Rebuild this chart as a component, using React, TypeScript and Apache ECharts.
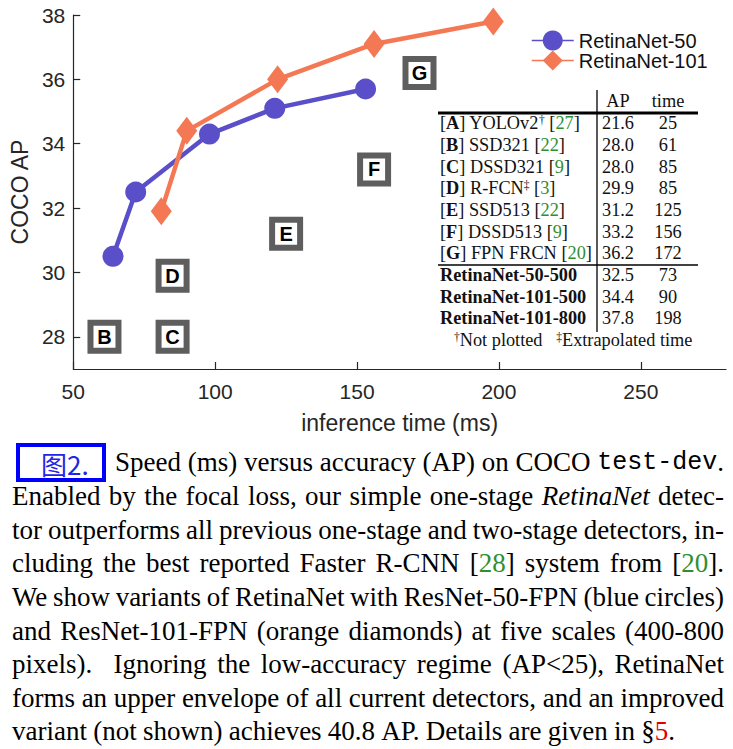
import React, { useEffect, useRef } from "react";
import * as echarts from "echarts";

// ---------- data ----------
const timeTicks = [50, 100, 150, 200, 250];
const apTicks = [28, 30, 32, 34, 36, 38];

const r50Time = [64, 72, 98, 121, 153];
const r50AP = [30.5, 32.5, 34.3, 35.1, 35.7];
const r101Time = [81, 90, 122, 156, 198];
const r101AP = [31.9, 34.4, 36.0, 37.1, 37.8];

const methodLetters = ["A", "B", "C", "D", "E", "F", "G"];
const methodNames = ["YOLOv2", "SSD321", "DSSD321", "R-FCN", "SSD513", "DSSD513", "FPN FRCN"];
const methodMarks = ["†", "", "", "‡", "", "", ""];
const methodCites = ["27", "22", "9", "3", "22", "9", "20"];
const methodAP = [21.6, 28.0, 28.0, 29.9, 31.2, 33.2, 36.2];
const methodTime = [25, 61, 85, 85, 125, 156, 172];
const methodPlotted = [false, true, true, true, true, true, true];

const retinaRows = ["RetinaNet-50-500", "RetinaNet-101-500", "RetinaNet-101-800"];
const retinaAP = [32.5, 34.4, 37.8];
const retinaTime = [73, 90, 198];

const captionLines: [string, string][][] = [
  [["n", "Speed (ms) versus accuracy (AP) on COCO "], ["m", "test-dev"], ["n", "."]],
  [["n", "Enabled by the focal loss, our simple one-stage "], ["i", "RetinaNet"], ["n", " detec-"]],
  [["n", "tor outperforms all previous one-stage and two-stage detectors, in-"]],
  [["n", "cluding the best reported Faster R-CNN ["], ["g", "28"], ["n", "] system from ["], ["g", "20"], ["n", "]."]],
  [["n", "We show variants of RetinaNet with ResNet-50-FPN (blue circles)"]],
  [["n", "and ResNet-101-FPN (orange diamonds) at five scales (400-800"]],
  [["n", "pixels).  Ignoring the low-accuracy regime (AP<25), RetinaNet"]],
  [["n", "forms an upper envelope of all current detectors, and an improved"]],
  [["n", "variant (not shown) achieves 40.8 AP. Details are given in §"], ["r", "5"], ["n", "."]],
];

// ---------- styles ----------
const BLUE = "#5b4fc9";
const ORANGE = "#f47853";
const SANS = '"Liberation Sans", Arial, Helvetica, sans-serif';
const SERIF = '"Liberation Serif", "Times New Roman", serif';
const MONO = '"Liberation Mono", "DejaVu Sans Mono", monospace';
const AXIS_COLOR = "#262626";
const CITE_GREEN = "#2f8f2f";
const TAB_SIZE = 18.3;

const CAP_SIZE = 27;
const capStyles: Record<string, any> = {
  n: { fontFamily: SERIF, fontSize: CAP_SIZE, fill: "#000" },
  i: { fontFamily: SERIF, fontSize: CAP_SIZE, fontStyle: "italic", fill: "#000" },
  g: { fontFamily: SERIF, fontSize: CAP_SIZE, fill: CITE_GREEN },
  r: { fontFamily: SERIF, fontSize: CAP_SIZE, fill: "#e00000" },
  m: { fontFamily: MONO, fontSize: 25, fill: "#000" },
};

let measureCtx: CanvasRenderingContext2D | null = null;
function measure(text: string, st: any): number {
  if (!measureCtx) measureCtx = document.createElement("canvas").getContext("2d");
  const ctx = measureCtx!;
  ctx.font = `${st.fontStyle || "normal"} ${st.fontWeight || "normal"} ${st.fontSize}px ${st.fontFamily}`;
  return ctx.measureText(text).width;
}

function buildCaptionLine(segs: [string, string][], li: number, x0: number, x1: number) {
  type Tok = { kind: "w"; text: string; st: string } | { kind: "s"; n: number };
  const toks: Tok[] = [];
  for (const [st, text] of segs) {
    let buf = "";
    for (const ch of text) {
      if (ch === " ") {
        if (buf) { toks.push({ kind: "w", text: buf, st }); buf = ""; }
        const last = toks[toks.length - 1];
        if (last && last.kind === "s") last.n += 1;
        else toks.push({ kind: "s", n: 1 });
      } else buf += ch;
    }
    if (buf) toks.push({ kind: "w", text: buf, st });
  }
  let wordsW = 0;
  let gapUnits = 0;
  for (const t of toks) {
    if (t.kind === "w") wordsW += measure(t.text, capStyles[t.st]);
    else gapUnits += t.n;
  }
  const natural = measure(" ", capStyles.n);
  const unit = gapUnits > 0 ? Math.max(2, (x1 - x0 - wordsW) / gapUnits) : natural;
  const rich: Record<string, any> = { ...capStyles };
  let str = "";
  for (const t of toks) {
    if (t.kind === "w") str += `{${t.st}|${t.text}}`;
    else {
      const key = `sp${li}_${t.n}`;
      rich[key] = { fontFamily: SERIF, fontSize: CAP_SIZE, width: unit * t.n };
      str += `{${key}| }`;
    }
  }
  return { str, rich };
}

function txt(x: number, y: number, text: string, extra: any = {}, rich?: any) {
  const style: any = {
    text,
    fontFamily: SERIF,
    fontSize: TAB_SIZE,
    fill: "#111",
    align: extra.align || "left",
    verticalAlign: "middle",
    textAlign: extra.align || "left",
    textVerticalAlign: "middle",
    ...extra,
  };
  if (rich) style.rich = rich;
  return { type: "text", x, y, z: 10, style };
}

function buildOption() {
  const graphics: any[] = [];

  // ----- table -----
  const tLeft = 440;
  const apX = 618;
  const timeX = 668;
  const headerY = 100.7;
  const row0 = 123.3;
  const rowH = 21.67;
  const tableRich = {
    b: { fontFamily: SERIF, fontSize: TAB_SIZE, fontWeight: "bold", fill: "#111" },
    g: { fontFamily: SERIF, fontSize: TAB_SIZE, fill: CITE_GREEN },
    sup: { fontFamily: SERIF, fontSize: 11.5, fill: "#111", verticalAlign: "top" },
  };
  graphics.push(txt(apX, headerY, "AP", { align: "center" }));
  graphics.push(txt(timeX, headerY, "time", { align: "center" }));
  graphics.push({ type: "line", z: 10, shape: { x1: 438, y1: 113, x2: 698, y2: 113 }, style: { stroke: "#000", lineWidth: 3 } });
  graphics.push({ type: "line", z: 10, shape: { x1: 597, y1: 90, x2: 597, y2: 332 }, style: { stroke: "#000", lineWidth: 1.3 } });
  graphics.push({ type: "line", z: 10, shape: { x1: 438, y1: 265, x2: 698, y2: 265 }, style: { stroke: "#000", lineWidth: 1.3 } });
  methodLetters.forEach((l, i) => {
    const y = row0 + i * rowH;
    const mark = methodMarks[i] ? `{sup|${methodMarks[i]}}` : "";
    graphics.push(txt(tLeft, y, `[{b|${l}}] ${methodNames[i]}${mark} [{g|${methodCites[i]}}]`, {}, tableRich));
    graphics.push(txt(apX, y, methodAP[i].toFixed(1), { align: "center" }));
    graphics.push(txt(timeX, y, String(methodTime[i]), { align: "center" }));
  });
  retinaRows.forEach((name, j) => {
    const y = row0 + (methodLetters.length + j) * rowH;
    graphics.push(txt(tLeft, y, name, { fontWeight: "bold" }));
    graphics.push(txt(apX, y, retinaAP[j].toFixed(1), { align: "center" }));
    graphics.push(txt(timeX, y, String(retinaTime[j]), { align: "center" }));
  });
  graphics.push(
    txt(454, row0 + 10 * rowH, "{sup|†}Not plotted   {sup|‡}Extrapolated time", {}, tableRich)
  );

  // ----- caption -----
  graphics.push({
    type: "rect",
    z: 10,
    shape: { x: 18, y: 445, width: 86, height: 35 },
    style: { fill: "#fff", stroke: "#0000ff", lineWidth: 4 },
  });
  graphics.push({
    type: "text",
    z: 11,
    x: 41,
    y: 463,
    style: {
      text: "图2.",
      fontFamily: '"Noto Sans CJK SC", sans-serif',
      fontSize: 26,
      fill: "#2424e6",
      align: "left",
      verticalAlign: "middle",
      textAlign: "left",
      textVerticalAlign: "middle",
    },
  });
  const lineYs = [462, 496, 529.5, 563, 597, 630.5, 664, 697.5, 731];
  captionLines.forEach((segs, li) => {
    const x0 = li === 0 ? 115 : 12;
    const x1 = li === captionLines.length - 1 ? 675 : 724;
    const { str, rich } = buildCaptionLine(segs, li, x0, x1);
    graphics.push({
      type: "text",
      z: 10,
      x: x0,
      y: lineYs[li],
      style: {
        text: str,
        rich,
        fontFamily: SERIF,
        fontSize: CAP_SIZE,
        fill: "#000",
        align: "left",
        verticalAlign: "middle",
        textAlign: "left",
        textVerticalAlign: "middle",
      },
    });
  });

  const boxData = methodLetters
    .map((l, i) => (methodPlotted[i] ? { name: l, value: [methodTime[i], methodAP[i]] } : null))
    .filter(Boolean);

  return {
    animation: false,
    backgroundColor: "#fff",
    grid: { left: 72, top: 15, width: 654, height: 354 },
    legend: {
      data: ["RetinaNet-50", "RetinaNet-101"],
      orient: "vertical",
      left: 526,
      top: 25.5,
      itemWidth: 42,
      itemHeight: 25,
      itemGap: 0,
      lineStyle: { width: 1.5 },
      textStyle: { fontFamily: SANS, fontSize: 20, color: "#111" },
      selectedMode: false,
    },
    xAxis: {
      type: "value",
      min: 50,
      max: 280,
      name: "inference time (ms)",
      nameLocation: "middle",
      nameGap: 42,
      nameTextStyle: { fontFamily: SANS, fontSize: 23, color: AXIS_COLOR },
      axisLine: { show: true, lineStyle: { color: AXIS_COLOR, width: 1.2 } },
      axisTick: { show: true, inside: true, length: 7, customValues: timeTicks, lineStyle: { color: AXIS_COLOR, width: 1.2 } },
      axisLabel: { customValues: timeTicks, fontFamily: SANS, fontSize: 21, color: AXIS_COLOR, margin: 12 },
      splitLine: { show: false },
    },
    yAxis: {
      type: "value",
      min: 27,
      max: 38,
      name: "COCO AP",
      nameLocation: "middle",
      nameGap: 39,
      nameTextStyle: { fontFamily: SANS, fontSize: 23, color: AXIS_COLOR },
      axisLine: { show: true, lineStyle: { color: AXIS_COLOR, width: 1.2 } },
      axisTick: { show: true, inside: true, length: 7, customValues: apTicks, lineStyle: { color: AXIS_COLOR, width: 1.2 } },
      axisLabel: { customValues: apTicks, fontFamily: SANS, fontSize: 21, color: AXIS_COLOR, margin: 8 },
      splitLine: { show: false },
    },
    series: [
      {
        name: "methods",
        type: "scatter",
        data: boxData,
        symbol: "rect",
        symbolSize: 28,
        itemStyle: { color: "#fff", borderColor: "#5e5e5e", borderWidth: 6, opacity: 1 },
        label: {
          show: true,
          position: "inside",
          formatter: "{b}",
          fontFamily: SANS,
          fontSize: 20,
          fontWeight: "bold",
          color: "#000",
        },
        emphasis: { disabled: true },
        z: 2,
      },
      {
        name: "RetinaNet-50",
        type: "line",
        data: r50Time.map((t, i) => [t, r50AP[i]]),
        symbol: "circle",
        symbolSize: 21,
        showAllSymbol: true,
        lineStyle: { color: BLUE, width: 4.5 },
        itemStyle: { color: BLUE },
        emphasis: { disabled: true },
        z: 3,
      },
      {
        name: "RetinaNet-101",
        type: "line",
        data: r101Time.map((t, i) => [t, r101AP[i]]),
        symbol: "diamond",
        symbolSize: [21, 28],
        showAllSymbol: true,
        lineStyle: { color: ORANGE, width: 4.5 },
        itemStyle: { color: ORANGE },
        emphasis: { disabled: true },
        z: 4,
      },
    ],
    graphic: { elements: graphics },
  };
}

export default function App() {
  const ref = useRef<HTMLDivElement>(null);
  useEffect(() => {
    const chart = echarts.init(ref.current!, undefined, { renderer: "svg" });
    chart.setOption(buildOption() as any);
    return () => chart.dispose();
  }, []);
  return (
    <div
      ref={ref}
      style={{ position: "absolute", left: 0, top: 0, width: 733, height: 749, background: "#fff" }}
    />
  );
}
